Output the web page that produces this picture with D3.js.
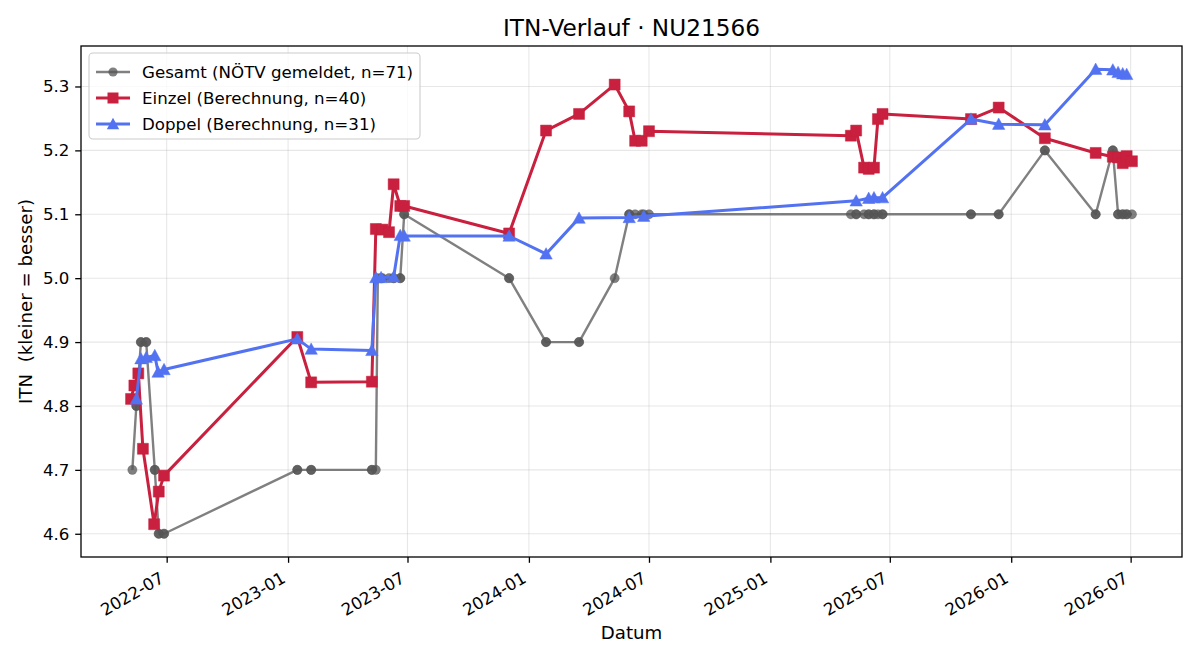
<!DOCTYPE html>
<html>
<head>
<meta charset="utf-8">
<script src="https://cdn.jsdelivr.net/npm/d3@7"></script>
<style>
  html, body { margin: 0; padding: 0; background: #fff; }
  svg { display: block; font-family: "DejaVu Sans", sans-serif; }
</style>
</head>
<body>
<svg id="chart" width="1200" height="660"></svg>
<script>
// ---------- DATA ----------
const gesamtDates = [
  "2022-05-10","2022-05-16","2022-05-16","2022-05-23","2022-05-23","2022-05-31","2022-05-31",
  "2022-06-13","2022-06-13","2022-06-19","2022-06-19","2022-06-27","2022-06-27",
  "2023-01-15","2023-01-15","2023-02-05","2023-02-05",
  "2023-05-08","2023-05-08","2023-05-14","2023-05-17","2023-05-22","2023-05-24","2023-06-03",
  "2023-06-10","2023-06-10","2023-06-20","2023-06-20","2023-06-26","2023-06-26",
  "2023-12-02","2023-12-02","2024-01-27","2024-01-27","2024-03-17","2024-03-17","2024-05-10",
  "2024-06-01","2024-06-01","2024-06-10","2024-06-20","2024-06-23","2024-07-01",
  "2025-05-03","2025-05-11","2025-05-11","2025-05-23","2025-05-30","2025-05-30",
  "2025-06-07","2025-06-07","2025-06-13","2025-06-20","2025-06-20",
  "2025-11-01","2025-11-01","2025-12-13","2025-12-13",
  "2026-02-21","2026-02-21","2026-05-09","2026-05-09","2026-06-04","2026-06-04",
  "2026-06-12","2026-06-12","2026-06-19","2026-06-19","2026-06-25","2026-06-25","2026-07-03"
];
const gesamtValues = [
  4.7,4.8,4.8,4.9,4.9,4.9,4.9,
  4.7,4.7,4.6,4.6,4.6,4.6,
  4.7,4.7,4.7,4.7,
  4.7,4.7,4.7,5.0,5.0,5.0,5.0,
  5.0,5.0,5.0,5.0,5.1,5.1,
  5.0,5.0,4.9,4.9,4.9,4.9,5.0,
  5.1,5.1,5.1,5.1,5.1,5.1,
  5.1,5.1,5.1,5.1,5.1,5.1,
  5.1,5.1,5.1,5.1,5.1,
  5.1,5.1,5.1,5.1,
  5.2,5.2,5.1,5.1,5.2,5.2,
  5.1,5.1,5.1,5.1,5.1,5.1,5.1
];
const einzelDates = [
  "2022-05-08","2022-05-13","2022-05-19","2022-05-26","2022-06-12","2022-06-19","2022-06-27",
  "2023-01-15","2023-02-05",
  "2023-05-08","2023-05-14","2023-05-24","2023-06-03","2023-06-10","2023-06-20","2023-06-26",
  "2023-12-02","2024-01-27","2024-03-17","2024-05-10","2024-06-01","2024-06-10","2024-06-20","2024-07-01",
  "2025-05-03","2025-05-11","2025-05-23","2025-05-30","2025-06-07","2025-06-13","2025-06-20",
  "2025-11-01","2025-12-13",
  "2026-02-21","2026-05-09","2026-06-04","2026-06-12","2026-06-19","2026-06-25","2026-07-03"
];
const einzelValues = [
  4.811,4.832,4.851,4.733,4.615,4.666,4.691,
  4.908,4.837,
  4.838,5.077,5.076,5.072,5.147,5.113,5.113,
  5.070,5.231,5.257,5.303,5.261,5.215,5.215,5.230,
  5.223,5.231,5.173,5.171,5.173,5.249,5.257,
  5.249,5.267,
  5.219,5.196,5.190,5.189,5.180,5.191,5.183
];
const doppelDates = [
  "2022-05-16","2022-05-23","2022-05-31","2022-06-13","2022-06-18","2022-06-27",
  "2023-01-15","2023-02-05",
  "2023-05-08","2023-05-14","2023-05-22","2023-06-10","2023-06-20","2023-06-26",
  "2023-12-02","2024-01-27","2024-03-17","2024-06-01","2024-06-23",
  "2025-05-11","2025-05-30","2025-06-07","2025-06-20",
  "2025-11-01","2025-12-13",
  "2026-02-21","2026-05-09","2026-06-04","2026-06-12","2026-06-19","2026-06-25"
];
const doppelValues = [
  4.811,4.874,4.876,4.879,4.853,4.857,
  4.905,4.889,
  4.887,5.001,5.001,5.002,5.067,5.066,
  5.066,5.038,5.094,5.095,5.097,
  5.121,5.125,5.126,5.126,
  5.249,5.241,
  5.240,5.327,5.326,5.322,5.320,5.319
];
const yTickValues = [4.6, 4.7, 4.8, 4.9, 5.0, 5.1, 5.2, 5.3];
const xTickLabels = ["2022-07","2023-01","2023-07","2024-01","2024-07","2025-01","2025-07","2026-01","2026-07"];
const seriesNames = ["Gesamt (NÖTV gemeldet, n=71)", "Einzel (Berechnung, n=40)", "Doppel (Berechnung, n=31)"];
const titleText = "ITN-Verlauf · NU21566";
const xLabelText = "Datum";
const yLabelText = "ITN  (kleiner = besser)";

// ---------- LAYOUT ----------
const W = 1200, H = 660;
const M = { left: 81, right: 1182, top: 46, bottom: 557 };
const FS = 16.67;
const parse = d3.utcParse("%Y-%m-%d");
const parseMonth = d3.utcParse("%Y-%m");

const zip = (ds, vs) => ds.map((d, i) => ({ date: parse(d), value: vs[i] }));
const gesamt = zip(gesamtDates, gesamtValues);
const einzel = zip(einzelDates, einzelValues);
const doppel = zip(doppelDates, doppelValues);
const all = gesamt.concat(einzel, doppel);

const [dMin, dMax] = d3.extent(all, d => +d.date);
const dPad = (dMax - dMin) * 0.05;
const [vMin, vMax] = d3.extent(all, d => d.value);
const vPad = (vMax - vMin) * 0.05;

const x = d3.scaleUtc().domain([new Date(dMin - dPad), new Date(dMax + dPad)]).range([M.left, M.right]);
const y = d3.scaleLinear().domain([vMin - vPad, vMax + vPad]).range([M.bottom, M.top]);

const svg = d3.select("#chart");
svg.append("rect").attr("width", W).attr("height", H).attr("fill", "#fff");

const xTicks = xTickLabels.map(s => parseMonth(s));

// grid
const grid = svg.append("g").attr("stroke", "#b0b0b0").attr("stroke-opacity", 0.3).attr("stroke-width", 1.1);
grid.selectAll("line.gx").data(xTicks).join("line")
  .attr("x1", d => x(d)).attr("x2", d => x(d)).attr("y1", M.top).attr("y2", M.bottom);
grid.selectAll("line.gy").data(yTickValues).join("line")
  .attr("x1", M.left).attr("x2", M.right).attr("y1", d => y(d)).attr("y2", d => y(d));

// axes
const fmt = d3.utcFormat("%Y-%m");
const xAxis = svg.append("g").attr("transform", `translate(0,${M.bottom})`)
  .call(d3.axisBottom(x).tickValues(xTicks).tickFormat(fmt).tickSize(5.8).tickPadding(5.8));
xAxis.select(".domain").remove();
xAxis.selectAll(".tick line").attr("stroke", "#000").attr("stroke-width", 1.3);
xAxis.selectAll(".tick text")
  .attr("font-family", "DejaVu Sans").attr("font-size", FS).attr("fill", "#000")
  .attr("text-anchor", "end").attr("dy", null).attr("y", null)
  .attr("transform", "translate(-2,24.5) rotate(-30)");

const yAxis = svg.append("g").attr("transform", `translate(${M.left},0)`)
  .call(d3.axisLeft(y).tickValues(yTickValues).tickFormat(d3.format(".1f")).tickSize(5.8).tickPadding(5.8));
yAxis.select(".domain").remove();
yAxis.selectAll(".tick line").attr("stroke", "#000").attr("stroke-width", 1.3);
yAxis.selectAll(".tick text").attr("font-family", "DejaVu Sans").attr("font-size", FS).attr("fill", "#000");

// plot clip
svg.append("clipPath").attr("id", "clip").append("rect")
  .attr("x", M.left).attr("y", M.top).attr("width", M.right - M.left).attr("height", M.bottom - M.top);
const plot = svg.append("g").attr("clip-path", "url(#clip)");

const line = d3.line().x(d => x(d.date)).y(d => y(d.value));

const styles = [
  { data: gesamt, color: "#555555", op: 0.75, lw: 2.4, shape: "circle" },
  { data: einzel, color: "#c8203e", op: 1.0, lw: 3.0, shape: "square" },
  { data: doppel, color: "#5272f2", op: 1.0, lw: 3.0, shape: "triangle" }
];
const sym = {
  circle: d3.symbol().type(d3.symbolCircle).size(Math.PI * 4.6 * 4.6)(),
  square: d3.symbol().type(d3.symbolSquare).size(11 * 11)(),
  triangle: "M0,-6.2L6.2,5.2L-6.2,5.2Z"
};

styles.forEach(s => {
  plot.append("path").datum(s.data).attr("d", line)
    .attr("fill", "none").attr("stroke", s.color).attr("stroke-opacity", s.op)
    .attr("stroke-width", s.lw).attr("stroke-linejoin", "round").attr("stroke-linecap", "butt");
  plot.append("g").selectAll("path").data(s.data).join("path")
    .attr("d", sym[s.shape])
    .attr("transform", d => `translate(${x(d.date)},${y(d.value)})`)
    .attr("fill", s.color).attr("fill-opacity", s.op)
    .attr("stroke", s.color).attr("stroke-opacity", s.op * 0.6).attr("stroke-width", 0.8);
});

// frame
svg.append("rect").attr("x", M.left).attr("y", M.top)
  .attr("width", M.right - M.left).attr("height", M.bottom - M.top)
  .attr("fill", "none").attr("stroke", "#000").attr("stroke-width", 1.3);

// title & labels
svg.append("text").attr("x", (M.left + M.right) / 2).attr("y", 36)
  .attr("text-anchor", "middle").attr("font-size", 23.2).attr("fill", "#000").text(titleText);
svg.append("text").attr("x", (M.left + M.right) / 2).attr("y", 639)
  .attr("text-anchor", "middle").attr("font-size", 18.2).attr("fill", "#000").text(xLabelText);
svg.append("text").attr("transform", `translate(32,${(M.top + M.bottom) / 2}) rotate(-90)`)
  .attr("text-anchor", "middle").attr("font-size", 18.2).attr("fill", "#000")
  .style("white-space", "pre").attr("xml:space", "preserve").text(yLabelText);

// legend
const lg = svg.append("g");
lg.append("rect").attr("x", 89).attr("y", 53).attr("width", 331).attr("height", 86).attr("rx", 4)
  .attr("fill", "#fff").attr("fill-opacity", 0.8).attr("stroke", "#cccccc").attr("stroke-width", 1.1);
styles.forEach((s, i) => {
  const cy = 72 + i * 26;
  lg.append("line").attr("x1", 96).attr("x2", 130).attr("y1", cy).attr("y2", cy)
    .attr("stroke", s.color).attr("stroke-opacity", s.op).attr("stroke-width", s.lw);
  lg.append("path").attr("d", sym[s.shape]).attr("transform", `translate(113,${cy})`)
    .attr("fill", s.color).attr("fill-opacity", s.op);
  lg.append("text").attr("x", 142).attr("y", cy).attr("dy", "0.36em")
    .attr("font-size", FS).attr("fill", "#000").text(seriesNames[i]);
});
</script>
</body>
</html>
